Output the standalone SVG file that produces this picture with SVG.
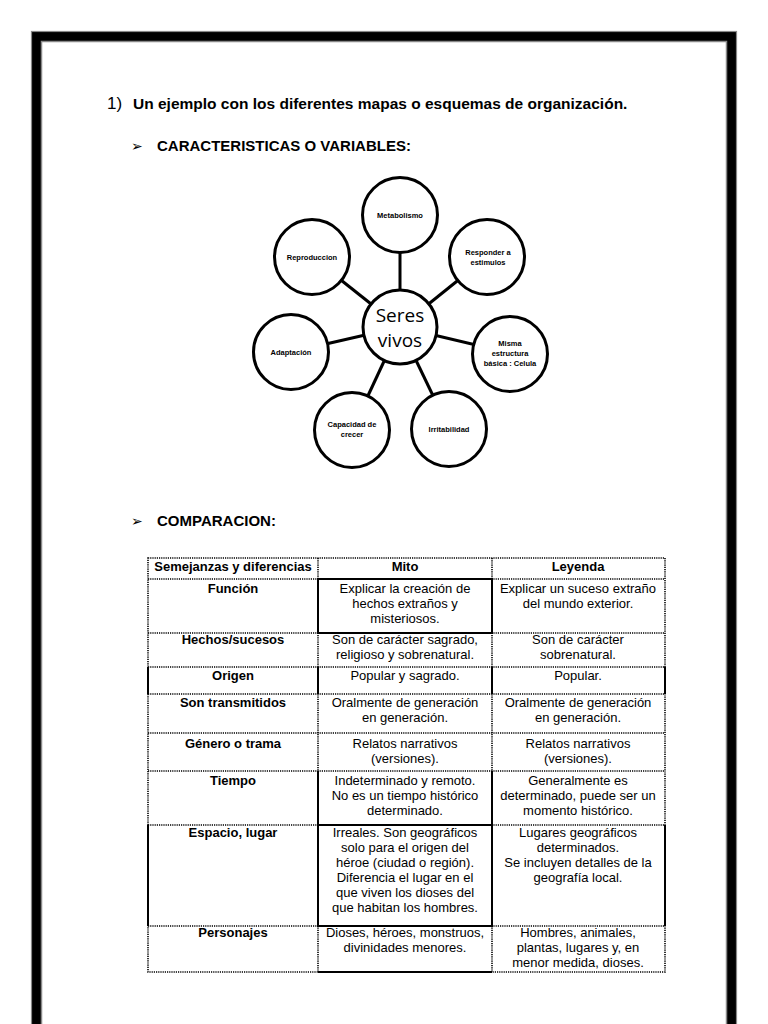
<svg xmlns="http://www.w3.org/2000/svg" width="768" height="1024" viewBox="0 0 768 1024">
<defs>
<style>
.t{font-family:"Liberation Sans",Arial,sans-serif;fill:#000}
.h{font-size:15.5px;font-weight:bold}
.s{font-size:15px;font-weight:bold}
.c{font-size:7.5px;font-weight:bold;text-anchor:middle}
.big{font-family:"Open Sans","Noto Sans",sans-serif;font-size:19px;text-anchor:middle;fill:#000}
.tb{font-size:13px;text-anchor:middle}
.tbb{font-size:13px;font-weight:bold;text-anchor:middle}
.node{fill:#fff;stroke:#000;stroke-width:3}
.conn{stroke:#000;stroke-width:3}
.dot{stroke:#000;stroke-width:1.6;stroke-dasharray:1.2,1;fill:none}
.sol{stroke:#000;stroke-width:2;fill:none}
.arr{font-family:"DejaVu Sans",sans-serif;font-size:14px;fill:#000}
</style>
</defs>
<rect width="768" height="1024" fill="#fff"/>
<g id="border">
<rect x="31.5" y="31.5" width="705" height="1100" fill="#000" stroke="#888" stroke-width="1.2"/>
<rect x="41.5" y="41.5" width="685" height="1100" fill="#fff" stroke="#888" stroke-width="1.5"/>
</g>
<g id="titles">
<text class="t" x="107" y="109" font-size="17">1)</text>
<text class="t h" x="133" y="109">Un ejemplo con los diferentes mapas o esquemas de organización.</text>
<text class="arr" x="131" y="151">➢</text>
<text class="t s" x="157" y="151">CARACTERISTICAS O VARIABLES:</text>
<text class="arr" x="131" y="526">➢</text>
<text class="t s" x="157" y="526">COMPARACION:</text>
</g>
<g id="connectors">
<line class="conn" x1="400" y1="327" x2="400" y2="215"/>
<line class="conn" x1="400" y1="327" x2="312" y2="257"/>
<line class="conn" x1="400" y1="327" x2="487" y2="257"/>
<line class="conn" x1="400" y1="327" x2="510" y2="353"/>
<line class="conn" x1="400" y1="327" x2="291" y2="352"/>
<line class="conn" x1="400" y1="327" x2="352" y2="430"/>
<line class="conn" x1="400" y1="327" x2="449" y2="429"/>
</g>
<g id="n-center"><circle class="node" cx="400" cy="327" r="37"/><text class="big" x="400" y="322">Seres</text><text class="big" x="400" y="347">vivos</text></g>
<g id="n-metabolismo"><circle class="node" cx="400" cy="215" r="37.5"/><text class="t c" x="400" y="218">Metabolismo</text></g>
<g id="n-reproduccion"><circle class="node" cx="312" cy="257" r="37.5"/><text class="t c" x="312" y="260">Reproduccion</text></g>
<g id="n-responder"><circle class="node" cx="487" cy="257" r="37.5"/><text class="t c" x="488" y="255">Responder a</text><text class="t c" x="488" y="265">estimulos</text></g>
<g id="n-misma"><circle class="node" cx="510" cy="354" r="37.5"/><text class="t c" x="510" y="346">Misma</text><text class="t c" x="510" y="356">estructura</text><text class="t c" x="510" y="366">básica : Celula</text></g>
<g id="n-adaptacion"><circle class="node" cx="291" cy="352" r="37.5"/><text class="t c" x="291" y="355">Adaptación</text></g>
<g id="n-capacidad"><circle class="node" cx="352" cy="430" r="37.5"/><text class="t c" x="352" y="427">Capacidad de</text><text class="t c" x="352" y="437">crecer</text></g>
<g id="n-irritabilidad"><circle class="node" cx="449" cy="429" r="37.5"/><text class="t c" x="449" y="432">Irritabilidad</text></g>
<g id="table">
<g id="grid">
<rect class="dot" x="148" y="558" width="517" height="414"/>
<line class="dot" x1="318" y1="558" x2="318" y2="972"/>
<line class="dot" x1="492" y1="558" x2="492" y2="972"/>
<line class="dot" x1="148" y1="579" x2="665" y2="579"/>
<line class="dot" x1="148" y1="633" x2="665" y2="633"/>
<line class="dot" x1="148" y1="667" x2="665" y2="667"/>
<line class="dot" x1="148" y1="694" x2="665" y2="694"/>
<line class="dot" x1="148" y1="733" x2="665" y2="733"/>
<line class="dot" x1="148" y1="771" x2="665" y2="771"/>
<line class="dot" x1="148" y1="825" x2="665" y2="825"/>
<line class="dot" x1="148" y1="926" x2="665" y2="926"/>
<rect class="sol" x="318" y="579" width="174" height="54"/>
<line class="sol" x1="148" y1="667" x2="148" y2="694"/>
<line class="sol" x1="318" y1="667" x2="318" y2="694"/>
<line class="sol" x1="492" y1="667" x2="492" y2="694"/>
<line class="sol" x1="665" y1="667" x2="665" y2="694"/>
<path class="sol" d="M318 771V825H492V771"/>
<path class="sol" d="M148 825V926M318 825V926H492V825M665 825V926"/>
<line class="sol" x1="318" y1="972" x2="492" y2="972"/>
</g>
<g id="header">
<text class="t tbb" x="233" y="571">Semejanzas y diferencias</text>
<text class="t tbb" x="405" y="571">Mito</text>
<text class="t tbb" x="578" y="571">Leyenda</text>
</g>
<g id="r-funcion">
<text class="t tbb" x="233" y="593">Función</text>
<text class="t tb" x="405" y="593">Explicar la creación de</text>
<text class="t tb" x="405" y="608">hechos extraños y</text>
<text class="t tb" x="405" y="623">misteriosos.</text>
<text class="t tb" x="578" y="593">Explicar un suceso extraño</text>
<text class="t tb" x="578" y="608">del mundo exterior.</text>
</g>
<g id="r-hechos">
<text class="t tbb" x="233" y="644">Hechos/sucesos</text>
<text class="t tb" x="405" y="644">Son de carácter sagrado,</text>
<text class="t tb" x="405" y="659">religioso y sobrenatural.</text>
<text class="t tb" x="578" y="644">Son de carácter</text>
<text class="t tb" x="578" y="659">sobrenatural.</text>
</g>
<g id="r-origen">
<text class="t tbb" x="233" y="680">Origen</text>
<text class="t tb" x="405" y="680">Popular y sagrado.</text>
<text class="t tb" x="578" y="680">Popular.</text>
</g>
<g id="r-transmitidos">
<text class="t tbb" x="233" y="707">Son transmitidos</text>
<text class="t tb" x="405" y="707">Oralmente de generación</text>
<text class="t tb" x="405" y="722">en generación.</text>
<text class="t tb" x="578" y="707">Oralmente de generación</text>
<text class="t tb" x="578" y="722">en generación.</text>
</g>
<g id="r-genero">
<text class="t tbb" x="233" y="748">Género o trama</text>
<text class="t tb" x="405" y="748">Relatos narrativos</text>
<text class="t tb" x="405" y="763">(versiones).</text>
<text class="t tb" x="578" y="748">Relatos narrativos</text>
<text class="t tb" x="578" y="763">(versiones).</text>
</g>
<g id="r-tiempo">
<text class="t tbb" x="233" y="785">Tiempo</text>
<text class="t tb" x="405" y="785">Indeterminado y remoto.</text>
<text class="t tb" x="405" y="800">No es un tiempo histórico</text>
<text class="t tb" x="405" y="815">determinado.</text>
<text class="t tb" x="578" y="785">Generalmente es</text>
<text class="t tb" x="578" y="800">determinado, puede ser un</text>
<text class="t tb" x="578" y="815">momento histórico.</text>
</g>
<g id="r-espacio">
<text class="t tbb" x="233" y="837">Espacio, lugar</text>
<text class="t tb" x="405" y="837">Irreales. Son geográficos</text>
<text class="t tb" x="405" y="852">solo para el origen del</text>
<text class="t tb" x="405" y="867">héroe (ciudad o región).</text>
<text class="t tb" x="405" y="882">Diferencia el lugar en el</text>
<text class="t tb" x="405" y="897">que viven los dioses del</text>
<text class="t tb" x="405" y="912">que habitan los hombres.</text>
<text class="t tb" x="578" y="837">Lugares geográficos</text>
<text class="t tb" x="578" y="852">determinados.</text>
<text class="t tb" x="578" y="867">Se incluyen detalles de la</text>
<text class="t tb" x="578" y="882">geografía local.</text>
</g>
<g id="r-personajes">
<text class="t tbb" x="233" y="937">Personajes</text>
<text class="t tb" x="405" y="937">Dioses, héroes, monstruos,</text>
<text class="t tb" x="405" y="952">divinidades menores.</text>
<text class="t tb" x="578" y="937">Hombres, animales,</text>
<text class="t tb" x="578" y="952">plantas, lugares y, en</text>
<text class="t tb" x="578" y="967">menor medida, dioses.</text>
</g>
</g>
</svg>
